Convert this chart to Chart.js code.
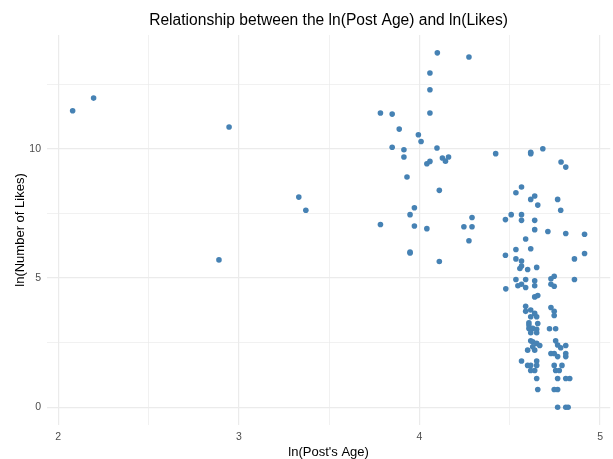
<!DOCTYPE html>
<html>
<head>
<meta charset="utf-8">
<script src="https://cdn.jsdelivr.net/npm/chart.js@4.4.1/dist/chart.umd.min.js"></script>
<style>
  html, body { margin: 0; padding: 0; background: #ffffff; }
  #wrap { width: 613px; height: 459px; }
</style>
</head>
<body>
<div id="wrap"><canvas id="scatter"></canvas></div>
<script>
// ln(post age) of each post
const lnAge = [
  2.080, 2.196, 2.946, 2.890, 3.332, 3.371,
  3.784, 3.849, 3.888, 3.994, 4.009, 3.849, 3.914, 3.914, 4.099, 4.274,
  4.058, 4.058, 4.058, 4.097, 4.041, 4.058, 4.127, 4.144, 4.161, 3.931,
  4.110, 3.972, 3.948, 3.784, 3.972, 4.041, 4.246, 4.291, 4.291, 4.274,
  3.948, 3.948, 4.110,
  4.422, 4.616, 4.616, 4.683, 4.784, 4.810, 4.565, 4.534, 4.638, 4.616,
  4.765, 4.655, 4.782, 4.508, 4.565, 4.476, 4.565, 4.638, 4.638, 4.711,
  4.810, 4.914, 4.588, 4.534, 4.616, 4.476, 4.914, 4.534, 4.565, 4.858,
  4.565, 4.556, 4.599, 4.649, 4.534, 4.588, 4.638, 4.728, 4.746, 4.858,
  4.545, 4.565, 4.588, 4.638, 4.728, 4.746, 4.478, 4.638, 4.655, 4.588,
  4.588, 4.616, 4.638, 4.728, 4.746, 4.746, 4.616, 4.649, 4.606, 4.655,
  4.606, 4.606, 4.627, 4.649, 4.720, 4.754, 4.616, 4.649, 4.616, 4.627,
  4.649, 4.666, 4.627, 4.599, 4.638, 4.754, 4.765, 4.782, 4.810, 4.728,
  4.746, 4.810, 4.810, 4.765, 4.565, 4.599, 4.616, 4.649, 4.649, 4.746,
  4.789, 4.616, 4.638, 4.754, 4.774, 4.649, 4.765, 4.810, 4.832, 4.655,
  4.746, 4.765, 4.765, 4.810, 4.823
];

// ln(number of likes) of each post
const lnLikes = [
  11.47, 11.96, 10.84, 5.70, 8.13, 7.62,
  11.38, 11.34, 10.76, 10.54, 10.28, 10.06, 9.96, 9.68, 13.71, 13.55,
  12.93, 12.28, 11.38, 10.03, 9.42, 9.51, 9.64, 9.52, 9.68, 8.91,
  8.39, 7.72, 7.45, 7.07, 7.01, 6.91, 6.98, 6.98, 7.34, 6.44,
  6.00, 5.97, 5.64,
  9.81, 9.86, 9.81, 10.00, 9.49, 9.29, 8.52, 8.30, 8.17, 8.04,
  8.04, 7.82, 7.62, 7.45, 7.45, 7.26, 7.23, 7.23, 6.87, 6.80,
  6.72, 6.69, 6.51, 6.10, 6.13, 5.88, 5.95, 5.74, 5.66, 5.74,
  5.46, 5.37, 5.33, 5.41, 4.94, 4.94, 4.89, 4.97, 5.07, 4.94,
  4.70, 4.76, 4.63, 4.70, 4.76, 4.68, 4.58, 4.27, 4.32, 3.91,
  3.71, 3.76, 3.63, 3.86, 3.71, 3.55, 3.50, 3.50, 3.27, 3.24,
  3.18, 3.05, 3.05, 3.02, 3.04, 3.04, 2.88, 2.88, 2.57, 2.53,
  2.47, 2.39, 2.34, 2.21, 2.21, 2.57, 2.41, 2.30, 2.39, 2.08,
  2.08, 2.08, 1.96, 1.96, 1.79, 1.62, 1.62, 1.79, 1.62, 1.62,
  1.62, 1.42, 1.42, 1.42, 1.42, 1.11, 1.11, 1.11, 1.11, 0.69,
  0.69, 0.69, 0.00, 0.00, 0.00
];

// grid positions (major + minor) and which ones get a label
const xGrid = [2, 2.5, 3, 3.5, 4, 4.5, 5];
const yGrid = [0, 2.5, 5, 7.5, 10, 12.5];
const xLabels = [2, 3, 4, 5];
const yLabels = [0, 5, 10];

const chartTitle = "Relationship between the ln(Post Age) and ln(Likes)";
const FONT = "'Liberation Sans', Arial, sans-serif";

const points = lnAge.map((x, i) => ({ x: x, y: lnLikes[i] }));

// title centred over the panel, like ggplot does
const panelTitle = {
  id: "panelTitle",
  afterDraw(chart) {
    const { ctx, chartArea } = chart;
    ctx.save();
    ctx.font = "15.6px " + FONT;
    ctx.fillStyle = "#000000";
    ctx.textAlign = "center";
    ctx.textBaseline = "middle";
    ctx.fillText(chartTitle, (chartArea.left + chartArea.right) / 2, 21);
    ctx.restore();
  },
};

new Chart(document.getElementById("scatter"), {
  type: "scatter",
  data: {
    datasets: [
      {
        data: points,
        backgroundColor: "#4682B4",
        borderWidth: 0,
        pointRadius: 2.8,
        pointHoverRadius: 2.8,
      },
    ],
  },
  options: {
    responsive: true,
    maintainAspectRatio: false,
    animation: false,
    events: [],
    layout: { padding: { top: 35, left: 0, right: 0, bottom: 0 } },
    plugins: {
      legend: { display: false },
      tooltip: { enabled: false },
      title: { display: false },
    },
    scales: {
      x: {
        type: "linear",
        min: 1.938,
        max: 5.056,
        afterBuildTicks: (axis) => {
          axis.ticks = xGrid.map((v) => ({ value: v }));
        },
        afterFit: (axis) => {
          axis.height = 34;
        },
        ticks: {
          color: "#4D4D4D",
          font: { family: FONT, size: 10.5 },
          padding: 6,
          maxRotation: 0,
          autoSkip: false,
          callback: (v) => (xLabels.includes(v) ? String(v) : ""),
        },
        grid: {
          drawTicks: false,
          color: "#EBEBEB",
          lineWidth: (c) => (xLabels.includes(c.tick.value) ? 1.2 : 0.7),
        },
        border: { display: false },
        title: {
          display: true,
          text: "ln(Post's Age)",
          color: "#000000",
          font: { family: FONT, size: 13 },
          padding: { top: 0, bottom: -1 },
        },
      },
      y: {
        type: "linear",
        min: -0.686,
        max: 14.4,
        afterBuildTicks: (axis) => {
          axis.ticks = yGrid.map((v) => ({ value: v }));
        },
        afterFit: (axis) => {
          axis.width = 47;
        },
        ticks: {
          color: "#4D4D4D",
          font: { family: FONT, size: 10.5 },
          padding: 6,
          autoSkip: false,
          callback: (v) => (yLabels.includes(v) ? String(v) : ""),
        },
        grid: {
          drawTicks: false,
          color: "#EBEBEB",
          lineWidth: (c) => (yLabels.includes(c.tick.value) ? 1.2 : 0.7),
        },
        border: { display: false },
        title: {
          display: true,
          text: "ln(Number of Likes)",
          color: "#000000",
          font: { family: FONT, size: 13 },
          padding: { top: 13, bottom: 0 },
        },
      },
    },
  },
  plugins: [panelTitle],
});
</script>
</body>
</html>
